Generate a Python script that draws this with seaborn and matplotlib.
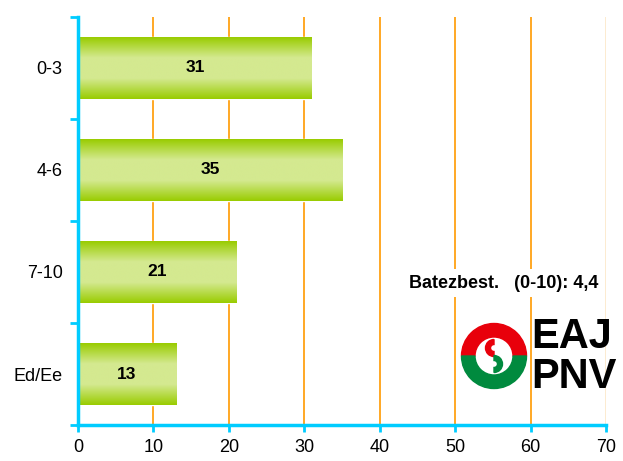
import numpy as np
import pandas as pd
import seaborn as sns
import matplotlib.pyplot as plt
from matplotlib.patches import Wedge
from matplotlib.colors import LinearSegmentedColormap

# data
categories = ['0-3', '4-6', '7-10', 'Ed/Ee']
values = [31, 35, 21, 13]
x_ticks = [0, 10, 20, 30, 40, 50, 60, 70]
note = 'Batezbest.   (0-10): 4,4'

df = pd.DataFrame({'cat': categories, 'val': values})

sns.set_style('white')
plt.rcParams['font.family'] = ['Liberation Sans', 'DejaVu Sans']
plt.rcParams['text.color'] = 'black'
plt.rcParams['xtick.color'] = 'black'
plt.rcParams['ytick.color'] = 'black'

fig = plt.figure(figsize=(6.23, 4.61), dpi=100)
ax = fig.add_axes([78 / 623, 1 - 425 / 461, 528 / 623, 408 / 461])

sns.barplot(data=df, x='val', y='cat', order=categories, orient='h',
            width=0.6, color='#99CC00', ax=ax, zorder=3)

# vertical green gradient on each bar
cmap = LinearSegmentedColormap.from_list('g', ['#99CC00', '#D4E990', '#D4E990', '#99CC00'])
grad = np.linspace(0, 1, 256).reshape(-1, 1)
for bar in ax.patches:
    x0, y0 = bar.get_x(), bar.get_y()
    w, h = bar.get_width(), bar.get_height()
    im = ax.imshow(grad, cmap=cmap, aspect='auto', extent=(x0, x0 + w, y0 + h, y0),
                   zorder=3.5, interpolation='bilinear')
    im.set_clip_path(bar)
    ax.text(x0 + w / 2, y0 + h / 2, f'{int(w)}', ha='center', va='center',
            fontsize=12.5, fontweight='bold', zorder=5)

ax.set_xlim(0, 70)
ax.set_ylim(3.5, -0.5)
ax.set_xticks(x_ticks)
ax.set_xlabel('')
ax.set_ylabel('')
ax.tick_params(axis='x', labelsize=13, length=5, color='#00CCFF', width=2,
               direction='out', pad=5, bottom=True, labelcolor='black')
ax.set_yticks(range(len(categories)))
ax.set_yticklabels(categories)
ax.tick_params(axis='y', which='major', labelsize=13, length=0, pad=11,
               labelcolor='black')
ax.set_yticks([-0.5, 0.5, 1.5, 2.5, 3.5], minor=True)
ax.tick_params(axis='y', which='minor', left=True, length=6, color='#00CCFF',
               width=2, direction='out')

for xv in x_ticks[1:-1]:
    ax.axvline(xv, color='#FF9900', lw=1.2, zorder=1)
ax.axvline(70, color='#FCE8C8', lw=1.2, zorder=1)

for s in ['top', 'right']:
    ax.spines[s].set_visible(False)
for s in ['left', 'bottom']:
    ax.spines[s].set_color('#00CCFF')
    ax.spines[s].set_linewidth(2.5)
    ax.spines[s].set_zorder(6)

ax.text(56.5, 2.11, note, ha='center', va='center', fontsize=13, fontweight='bold',
        zorder=5, bbox=dict(facecolor='white', edgecolor='none', pad=4))

# logo approximation, in pixel units of the figure
lax = fig.add_axes([455 / 623, 1 - 402 / 461, 168 / 623, 94 / 461])
lax.set_xlim(455, 623)
lax.set_ylim(402, 308)
lax.axis('off')
lax.patch.set_visible(True)
lax.set_facecolor('white')
cx, cy = 494, 356
lax.add_patch(Wedge((cx, cy), 32.5, 180, 360, width=13.5, color='#E8000B'))
lax.add_patch(Wedge((cx, cy), 32.5, 0, 180, width=13.5, color='#008A3E'))
lax.add_patch(Wedge((cx, cy - 8), 8.5, 90, 270, width=5, color='#E8000B'))
lax.add_patch(Wedge((cx, cy + 8), 8.5, -90, 90, width=5, color='#008A3E'))
lax.text(531, 337, 'EAJ', fontsize=30, fontweight='bold', va='center', ha='left',
         color='black', family=['Liberation Sans Narrow', 'Liberation Sans'])
lax.text(531, 377, 'PNV', fontsize=30, fontweight='bold', va='center', ha='left',
         color='black', family=['Liberation Sans Narrow', 'Liberation Sans'])

fig.savefig('out.png', dpi=100, facecolor='white')
